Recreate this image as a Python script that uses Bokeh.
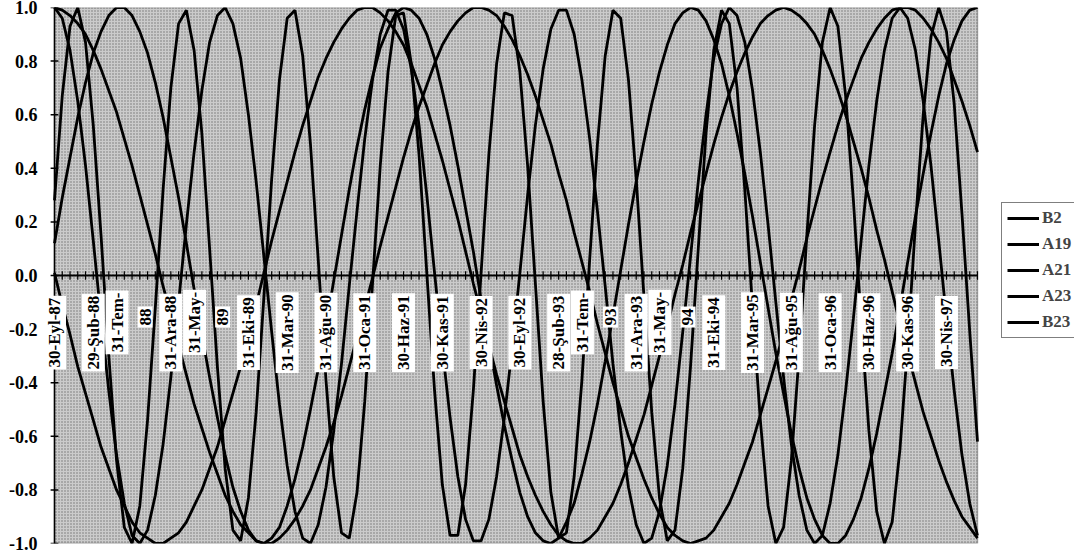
import math

from bokeh.embed import file_html
from bokeh.models import (BoxAnnotation, FixedTicker, Label, Legend, LegendItem,
                          PrintfTickFormatter, Range1d)
from bokeh.plotting import figure
from bokeh.resources import INLINE

# Category labels shown under the zero line, one every five months
tick_labels = [
    "30-Eyl-87", "29-Şub-88", "31-Tem-\n88", "31-Ara-88", "31-May-\n89",
    "31-Eki-89", "31-Mar-90", "31-Ağu-90", "31-Oca-91", "30-Haz-91",
    "30-Kas-91", "30-Nis-92", "30-Eyl-92", "28-Şub-93", "31-Tem-\n93",
    "31-Ara-93", "31-May-\n94", "31-Eki-94", "31-Mar-95", "31-Ağu-95",
    "31-Oca-96", "30-Haz-96", "30-Kas-96", "30-Nis-97",
]
label_step = 5

y_ticks = [-1.0, -0.8, -0.6, -0.4, -0.2, 0.0, 0.2, 0.4, 0.6, 0.8, 1.0]

# Monthly values, Sep 1987 - Aug 1997 (12 months per row)
B2 = [
    0.12, 0.29, 0.44, 0.59, 0.72, 0.83, 0.91, 0.97, 1.00, 1.00, 0.97, 0.91,
    0.83, 0.72, 0.59, 0.44, 0.29, 0.12, -0.05, -0.22, -0.38, -0.53, -0.67, -0.79,
    -0.88, -0.95, -0.99, -1.00, -0.98, -0.94, -0.86, -0.76, -0.64, -0.50, -0.35, -0.19,
    -0.02, 0.15, 0.32, 0.48, 0.62, 0.74, 0.85, 0.92, 0.98, 1.00, 0.99, 0.96,
    0.90, 0.81, 0.69, 0.56, 0.41, 0.25, 0.09, -0.09, -0.25, -0.41, -0.56, -0.69,
    -0.81, -0.90, -0.96, -0.99, -1.00, -0.98, -0.92, -0.85, -0.74, -0.62, -0.48, -0.32,
    -0.15, 0.02, 0.19, 0.35, 0.50, 0.64, 0.76, 0.86, 0.94, 0.98, 1.00, 0.99,
    0.95, 0.88, 0.79, 0.67, 0.53, 0.38, 0.22, 0.05, -0.12, -0.29, -0.44, -0.59,
    -0.72, -0.83, -0.91, -0.97, -1.00, -1.00, -0.97, -0.91, -0.83, -0.72, -0.59, -0.44,
    -0.29, -0.12, 0.05, 0.22, 0.38, 0.53, 0.67, 0.79, 0.88, 0.95, 0.99, 1.00,
]

A19 = [
    0.28, 0.67, 0.93, 1.00, 0.87, 0.56, 0.15, -0.30, -0.69, -0.94, -1.00, -0.86,
    -0.54, -0.12, 0.32, 0.70, 0.94, 0.99, 0.84, 0.53, 0.10, -0.34, -0.72, -0.95,
    -0.99, -0.83, -0.51, -0.08, 0.36, 0.73, 0.96, 0.99, 0.82, 0.49, 0.06, -0.39,
    -0.75, -0.96, -0.98, -0.81, -0.47, -0.03, 0.41, 0.76, 0.97, 0.98, 0.79, 0.45,
    0.01, -0.43, -0.78, -0.97, -0.97, -0.78, -0.43, 0.01, 0.45, 0.79, 0.98, 0.97,
    0.76, 0.41, -0.03, -0.47, -0.81, -0.98, -0.96, -0.75, -0.39, 0.06, 0.49, 0.82,
    0.99, 0.96, 0.73, 0.36, -0.08, -0.51, -0.83, -0.99, -0.95, -0.72, -0.34, 0.10,
    0.53, 0.84, 0.99, 0.94, 0.70, 0.32, -0.12, -0.54, -0.86, -1.00, -0.94, -0.69,
    -0.30, 0.15, 0.56, 0.87, 1.00, 0.93, 0.67, 0.28, -0.17, -0.58, -0.88, -1.00,
    -0.92, -0.65, -0.26, 0.19, 0.60, 0.89, 1.00, 0.91, 0.64, 0.23, -0.21, -0.62,
]

A21 = [
    1.00, 0.96, 0.84, 0.65, 0.41, 0.13, -0.16, -0.43, -0.67, -0.85, -0.97, -1.00,
    -0.95, -0.82, -0.63, -0.38, -0.10, 0.19, 0.46, 0.69, 0.87, 0.97, 1.00, 0.94,
    0.81, 0.60, 0.35, 0.07, -0.21, -0.48, -0.71, -0.88, -0.98, -1.00, -0.93, -0.79,
    -0.58, -0.33, -0.04, 0.24, 0.51, 0.73, 0.90, 0.99, 0.99, 0.92, 0.77, 0.56,
    0.30, 0.01, -0.27, -0.53, -0.75, -0.91, -0.99, -0.99, -0.91, -0.75, -0.53, -0.27,
    0.01, 0.30, 0.56, 0.77, 0.92, 0.99, 0.99, 0.90, 0.73, 0.51, 0.24, -0.04,
    -0.33, -0.58, -0.79, -0.93, -1.00, -0.98, -0.88, -0.71, -0.48, -0.21, 0.07, 0.35,
    0.60, 0.81, 0.94, 1.00, 0.97, 0.87, 0.69, 0.46, 0.19, -0.10, -0.38, -0.63,
    -0.82, -0.95, -1.00, -0.97, -0.85, -0.67, -0.43, -0.16, 0.13, 0.41, 0.65, 0.84,
    0.96, 1.00, 0.96, 0.84, 0.65, 0.41, 0.13, -0.16, -0.43, -0.67, -0.85, -0.97,
]

A23 = [
    1.00, 0.99, 0.97, 0.94, 0.90, 0.84, 0.77, 0.69, 0.61, 0.51, 0.41, 0.30,
    0.19, 0.08, -0.04, -0.15, -0.26, -0.37, -0.48, -0.57, -0.66, -0.74, -0.82, -0.88,
    -0.93, -0.96, -0.99, -1.00, -1.00, -0.98, -0.95, -0.91, -0.86, -0.80, -0.72, -0.64,
    -0.55, -0.45, -0.34, -0.23, -0.12, -0.01, 0.11, 0.22, 0.33, 0.44, 0.54, 0.63,
    0.71, 0.79, 0.86, 0.91, 0.95, 0.98, 1.00, 1.00, 0.99, 0.97, 0.93, 0.88,
    0.82, 0.75, 0.67, 0.58, 0.49, 0.38, 0.28, 0.16, 0.05, -0.06, -0.18, -0.29,
    -0.40, -0.50, -0.60, -0.68, -0.76, -0.83, -0.89, -0.94, -0.97, -0.99, -1.00, -0.99,
    -0.98, -0.95, -0.90, -0.85, -0.78, -0.70, -0.62, -0.52, -0.42, -0.32, -0.21, -0.09,
    0.02, 0.14, 0.25, 0.36, 0.46, 0.56, 0.65, 0.73, 0.81, 0.87, 0.92, 0.96,
    0.99, 1.00, 1.00, 0.99, 0.96, 0.92, 0.87, 0.81, 0.73, 0.65, 0.56, 0.46,
]

B23 = [
    0.01, -0.11, -0.22, -0.34, -0.44, -0.54, -0.64, -0.72, -0.80, -0.86, -0.92, -0.96,
    -0.98, -1.00, -1.00, -0.98, -0.96, -0.92, -0.86, -0.80, -0.72, -0.64, -0.54, -0.44,
    -0.34, -0.22, -0.11, 0.01, 0.13, 0.24, 0.35, 0.46, 0.56, 0.65, 0.74, 0.81,
    0.87, 0.92, 0.96, 0.99, 1.00, 1.00, 0.98, 0.95, 0.91, 0.86, 0.79, 0.71,
    0.63, 0.53, 0.43, 0.32, 0.21, 0.09, -0.03, -0.14, -0.26, -0.37, -0.47, -0.57,
    -0.67, -0.75, -0.82, -0.88, -0.93, -0.97, -0.99, -1.00, -1.00, -0.98, -0.95, -0.90,
    -0.85, -0.78, -0.70, -0.61, -0.52, -0.41, -0.30, -0.19, -0.07, 0.04, 0.16, 0.27,
    0.38, 0.49, 0.59, 0.68, 0.76, 0.83, 0.89, 0.94, 0.97, 0.99, 1.00, 0.99,
    0.97, 0.94, 0.90, 0.84, 0.77, 0.69, 0.60, 0.50, 0.40, 0.29, 0.17, 0.06,
    -0.06, -0.18, -0.29, -0.40, -0.51, -0.60, -0.69, -0.77, -0.84, -0.90, -0.94, -0.98,
]

series = [("B2", B2), ("A19", A19), ("A21", A21), ("A23", A23), ("B23", B23)]

FONT = "Liberation Serif"
n_months = len(A19)
months = list(range(n_months))

# The frame reaches from just left of the first month to the page's right
# edge: the plot box itself is drawn as an annotation over months 0..n-1,
# and the legend sits in the free strip on the right.
p = figure(
    width=1074, height=554, output_backend="svg", toolbar_location=None,
    x_range=Range1d(-1.289, 131.507), y_range=Range1d(-1, 1),
    x_axis_location=None,
    min_border_left=44, min_border_right=0, min_border_top=7, min_border_bottom=11,
)
p.grid.visible = False
p.outline_line_color = None
p.background_fill_color = "white"
p.border_fill_color = "white"

# stippled grey plot area with its black border
p.add_layout(BoxAnnotation(
    left=months[0], right=months[-1], bottom=-1, top=1,
    fill_color="#cbcbcb", fill_alpha=1.0,
    line_color="black", line_width=1.5,
    hatch_pattern="dot", hatch_color="#2a2a2a", hatch_alpha=0.55,
    hatch_scale=3, hatch_weight=1.6, level="underlay",
))

renderers = {}
for name, vals in series:
    renderers[name] = p.line(months, vals, line_color="black", line_width=2.8)

# category axis along the zero line, with a crossing tick at every month
p.segment(x0=[months[0]], y0=[0], x1=[months[-1]], y1=[0],
          line_color="black", line_width=2.2)
p.segment(x0=months, y0=[-0.016] * n_months, x1=months, y1=[0.016] * n_months,
          line_color="black", line_width=1.2)

# value axis: labels from the library axis, line and crossing ticks at month 0
ax = p.yaxis[0]
ax.ticker = FixedTicker(ticks=y_ticks)
ax.formatter = PrintfTickFormatter(format="%.1f")
ax.major_label_text_font = FONT
ax.major_label_text_font_size = "18px"
ax.major_label_text_font_style = "bold"
ax.major_label_text_color = "black"
ax.axis_line_color = None
ax.major_tick_line_color = None
ax.minor_tick_line_color = None
ax.major_tick_in = 0
ax.major_tick_out = 0
ax.major_label_standoff = 7

p.segment(x0=[months[0]], y0=[-1], x1=[months[0]], y1=[1],
          line_color="black", line_width=1.5)
p.segment(x0=[-0.5] * len(y_ticks), y0=y_ticks, x1=[0.5] * len(y_ticks), y1=y_ticks,
          line_color="black", line_width=1.5)

# rotated date labels on white boxes; wrapped labels get one box per line
for i, lab in enumerate(tick_labels):
    parts = lab.split("\n")
    if len(parts) == 1:
        placements = [(0, -0.213)]
    else:
        placements = [(-15, -0.175), (13, -0.155)]
    for part, (off, yc) in zip(parts, placements):
        p.add_layout(Label(
            x=i * label_step, y=yc, x_offset=off, text=part,
            angle=math.pi / 2, text_align="center", text_baseline="middle",
            text_font=FONT, text_font_size="17px", text_font_style="bold",
            text_color="black", background_fill_color="white", padding=2,
        ))

legend = Legend(
    items=[LegendItem(label=name, renderers=[renderers[name]]) for name, _ in series],
    location=(957, 205),
    border_line_color="black", border_line_width=1,
    background_fill_color="white", background_fill_alpha=1.0,
    label_text_font=FONT, label_text_font_size="17px", label_text_font_style="bold",
    glyph_width=32, glyph_height=20, label_height=20, spacing=6, padding=5,
    margin=0, label_standoff=3,
)
p.add_layout(legend)

open("out.html", "w").write(file_html(p, INLINE))
